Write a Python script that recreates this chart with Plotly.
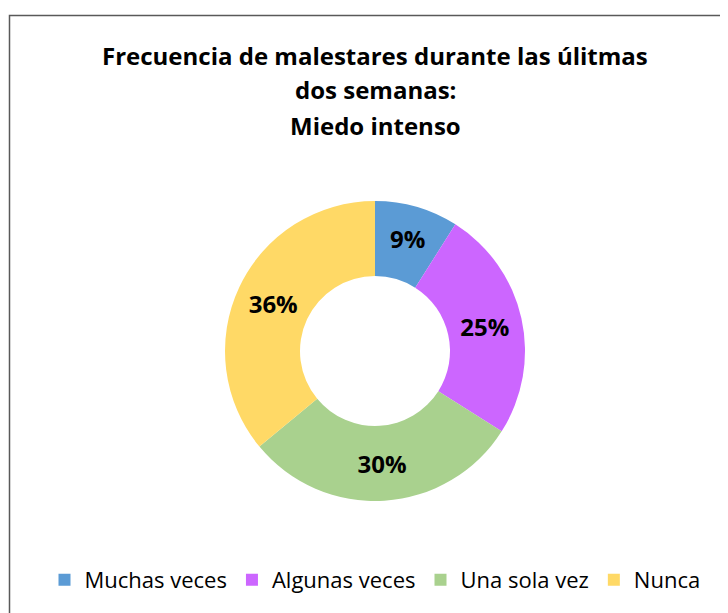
import plotly.graph_objects as go

categories = ["Muchas veces", "Algunas veces", "Una sola vez", "Nunca"]
values = [9, 25, 30, 36]
colors = ["#5B9BD5", "#CC66FF", "#A9D18E", "#FFD966"]
title_lines = ["Frecuencia de malestares durante las úlitmas", "dos semanas:", "Miedo intenso"]

W, H = 728, 613
OFF = 8  # page body margin
FONT = "'Open Sans', sans-serif"

cx, cy, R = 375 - OFF, 351 - OFF, 150

fig = go.Figure(go.Pie(
    labels=categories,
    values=values,
    hole=0.5,
    sort=False,
    direction="clockwise",
    rotation=0,
    marker=dict(colors=colors, line=dict(width=0)),
    texttemplate="<b>%{value}%</b>",
    textposition="inside",
    insidetextorientation="horizontal",
    textfont=dict(family=FONT, size=24, color="black"),
    domain=dict(x=[(cx - R) / W, (cx + R) / W], y=[1 - (cy + R) / H, 1 - (cy - R) / H]),
    hoverinfo="label+percent",
))

annotations = []
for i, line in enumerate(title_lines):
    annotations.append(dict(
        text="<b>" + line + "</b>", x=(375 - OFF) / W, y=1 - (55 - OFF + 35 * i) / H,
        xref="paper", yref="paper", xanchor="center", yanchor="middle",
        showarrow=False, font=dict(family=FONT, size=24, color="black"),
    ))

fig.update_layout(
    width=W, height=H,
    margin=dict(l=0, r=0, t=0, b=0),
    paper_bgcolor="white",
    font=dict(family=FONT, color="black"),
    annotations=annotations,
    showlegend=True,
    legend=dict(orientation="h", x=(375 - OFF) / W, xanchor="center", y=1 - (580 - OFF) / H, yanchor="middle",
                font=dict(family=FONT, size=22, color="black"), itemwidth=30,
                traceorder="normal"),
    shapes=[dict(type="rect", xref="paper", yref="paper",
                 x0=(9.5 - OFF) / W, x1=1.2, y0=-0.2, y1=1 - (15.5 - OFF) / H,
                 line=dict(color="#595959", width=1.5), fillcolor="rgba(0,0,0,0)", layer="below")],
)

fig.write_html("out.html", post_script="document.body.style.overflow='hidden';")
